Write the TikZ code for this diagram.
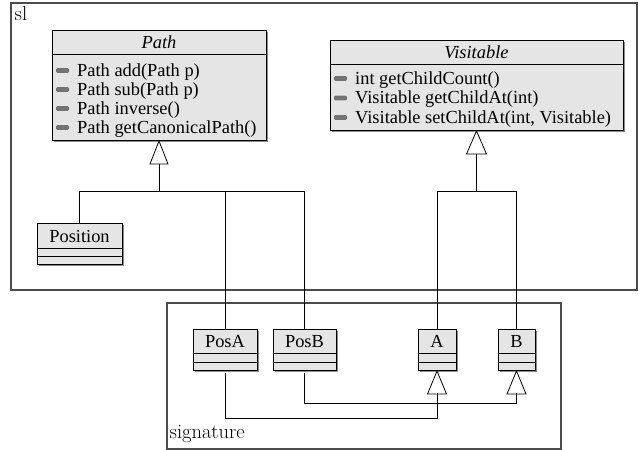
\documentclass[tikz,border=0pt]{standalone}
\usepackage{fontspec}
\newfontfamily\tms{Liberation Serif}
\usetikzlibrary{shadows}
\begin{document}
\begin{tikzpicture}[x=1pt,y=-1pt,
  clsbox/.style={draw=black, line width=0.9pt, fill=black!10, inner sep=0pt, outer sep=0pt, anchor=north west,
     drop shadow={shadow xshift=2pt, shadow yshift=-2pt, fill=black!45, opacity=1}},
  pkgbox/.style={draw=black!70, line width=1.1pt, inner sep=0pt, outer sep=0pt, anchor=north west},
  sepl/.style={draw=black, line width=0.9pt},
  conn/.style={draw=black, line width=0.8pt},
  inh/.style={draw=black, line width=0.8pt, fill=white, line join=miter},
  cname/.style={font=\tms\fontsize{18.4}{22}\selectfont, inner sep=0pt, anchor=base},
  aname/.style={font=\tms\itshape\fontsize{18.4}{22}\selectfont, inner sep=0pt, anchor=base},
  meth/.style={font=\tms\fontsize{18.4}{22}\selectfont, inner sep=0pt, anchor=base west},
  micon/.style={fill=black!55, rounded corners=1.2pt},
  plabel/.style={font=\fontsize{20.5}{23}\selectfont, inner sep=0pt, anchor=base west}]
\useasboundingbox (0,0) rectangle (638,450);
% packages
\node[pkgbox, minimum width=626, minimum height=287] (sl) at (11,3) {};
\node[plabel] (sllab) at (14.5,20) {sl};
\node[pkgbox, minimum width=394, minimum height=146] (sig) at (167,303) {};
\node[plabel] (siglab) at (169.5,438.5) {signature};
% Path
\node[clsbox, minimum width=214, minimum height=110] (path) at (52,30) {};
\draw[sepl] (52,54) -- (266,54);
\node[aname] (pathn) at (159,48) {Path};
\foreach \yb/\t in {76/{Path add(Path p)},95/{Path sub(Path p)},114/{Path inverse()},133/{Path getCanonicalPath()}}{
  \fill[micon] (56,\yb-7.8) rectangle (69,\yb-3.2);
  \node[meth] at (77,\yb) {\t};
}
% Visitable
\node[clsbox, minimum width=293, minimum height=90] (vis) at (330,40) {};
\draw[sepl] (330,64) -- (623,64);
\node[aname] (visn) at (476.5,58.5) {Visitable};
\foreach \yb/\t in {84/{int getChildCount()},103.5/{Visitable getChildAt(int)},123/{Visitable setChildAt(int, Visitable)}}{
  \fill[micon] (334,\yb-7.8) rectangle (347,\yb-3.2);
  \node[meth] at (355,\yb) {\t};
}
% Position
\node[clsbox, minimum width=85, minimum height=41] (position) at (37,223) {};
\draw[sepl] (37,248) -- (122,248);
\draw[sepl] (37,256) -- (122,256);
\node[cname] (positionn) at (79.5,242) {Position};
% PosA
\node[clsbox, minimum width=64, minimum height=41] (posa) at (193,329) {};
\draw[sepl] (193,353) -- (257,353);
\draw[sepl] (193,362) -- (257,362);
\node[cname] (posan) at (225,347.5) {PosA};
% PosB
\node[clsbox, minimum width=63, minimum height=41] (posb) at (273,329) {};
\draw[sepl] (273,353) -- (336,353);
\draw[sepl] (273,362) -- (336,362);
\node[cname] (posbn) at (304.5,347.5) {PosB};
% A
\node[clsbox, minimum width=38, minimum height=41] (a) at (418,329) {};
\draw[sepl] (418,353) -- (456,353);
\draw[sepl] (418,362) -- (456,362);
\node[cname] (an) at (437,347.5) {A};
% B
\node[clsbox, minimum width=37, minimum height=41] (b) at (498,329) {};
\draw[sepl] (498,353) -- (535,353);
\draw[sepl] (498,362) -- (535,362);
\node[cname] (bn) at (516.5,347.5) {B};
% inheritance triangles
\draw[inh] ([yshift=-1pt]path.south) -- ++(-9,23) -- ++(18,0) -- cycle;
\coordinate (tp) at (159,164);
\draw[inh] ([yshift=-1pt]vis.south) -- ++(-10,23) -- ++(20,0) -- cycle;
\coordinate (tv) at (476.5,154);
\draw[inh] ([yshift=-1pt]a.south) -- ++(-9.5,23) -- ++(19,0) -- cycle;
\coordinate (ta) at (437,393);
\draw[inh] ([yshift=-1pt]b.south) -- ++(-9.5,23) -- ++(19,0) -- cycle;
\coordinate (tb) at (516.5,393);
% upper connectors
\coordinate (jp) at (159,191);
\coordinate (jv) at (476.5,191);
\draw[conn] (tp) -- (jp);
\draw[conn] (jp) -| (position.north);
\draw[conn] (jp) -| (posb.north);
\draw[conn] (posa.north) |- (jp);
\draw[conn] (tv) -- (jv);
\draw[conn] (jv) -| (a.north);
\draw[conn] (jv) -| (b.north);
% lower connectors
\draw[conn] ([yshift=-3pt]posa.south) -- ++(0,45) -| (ta);
\draw[conn] ([yshift=-3pt]posb.south) -- ++(0,30) -| (tb);
\end{tikzpicture}
\end{document}
